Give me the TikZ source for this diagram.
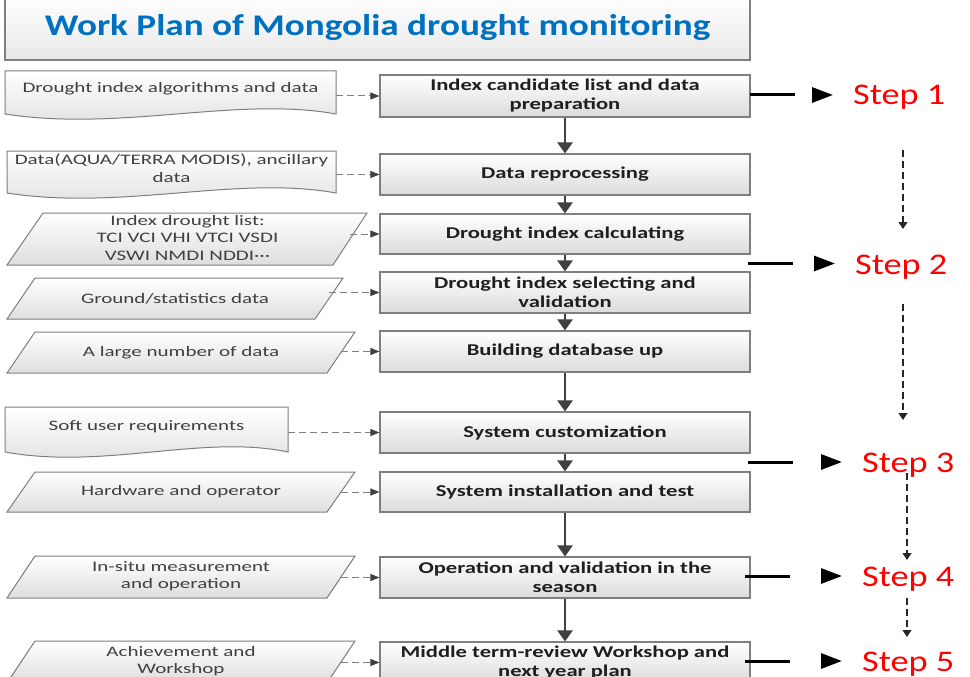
\documentclass[tikz,border=0pt]{standalone}
\usepackage{fontspec}
\setmainfont{Carlito}
\newfontfamily\titlefont[FakeStretch=1.24]{Carlito}
\newfontfamily\boxfont[FakeStretch=1.37]{Carlito}
\newfontfamily\infont[FakeStretch=1.45]{Carlito}
\newfontfamily\stepfont[FakeStretch=1.21]{Carlito}
\usetikzlibrary{arrows.meta}
\definecolor{titleblue}{HTML}{0070C0}
\definecolor{edgegray}{HTML}{7F7F7F}
\definecolor{flowgray}{HTML}{404040}
\definecolor{intextgray}{HTML}{404040}
\definecolor{stepred}{HTML}{FF0000}
\newcommand\docshape[4]{%
  \draw[inshape] (#1,#3) -- (#2,#3) -- (#2,#4)
    .. controls ({#2-0.3*(#2-#1)},{#4-18}) and ({#1+0.35*(#2-#1)},{#4+18}) .. (#1,#4) -- cycle;}
\newcommand\parashape[6]{% TLx TRx BLx BRx ytop ybot
  \draw[inshape] (#1,#5) -- (#2,#5) -- (#4,#6) -- (#3,#6) -- cycle;}
\begin{document}
\begin{tikzpicture}[x=1pt,y=-1pt,
  mainbox/.style={draw=edgegray, line width=1.1pt, top color=white, bottom color=black!14,
    minimum width=370pt, inner sep=0pt, align=center,
    font=\boxfont\bfseries\fontsize{16.5}{19}\selectfont, text=black!88},
  inshape/.style={draw=edgegray, line width=1pt, top color=white, bottom color=black!13},
  intext/.style={inner sep=0pt, align=center, font=\infont\fontsize{14.5}{17.5}\selectfont, text=intextgray},
  flow/.style={draw=flowgray, line width=2.4pt, -{Triangle[length=11pt,width=15pt]}, color=flowgray},
  feed/.style={draw=edgegray, line width=1pt, dash pattern=on 7pt off 4pt,
    -{Triangle[length=9pt,width=7pt,color=flowgray]}},
  steptext/.style={inner sep=0pt, text=stepred, font=\stepfont\fontsize{30}{34}\selectfont},
  steparrow/.style={draw=black, line width=3pt, dash pattern=on 45pt off 300pt,
    -{Triangle[length=21pt,width=15pt]}, shorten >=20pt},
  stepflow/.style={draw=black!85, line width=1.2pt, dash pattern=on 7pt off 4pt,
    -{Triangle[length=7pt,width=9pt]}},
  titlebox/.style={draw=edgegray, line width=1.1pt, top color=white, bottom color=black!9,
    inner sep=0pt, text=titleblue, font=\titlefont\bfseries\fontsize{30}{34}\selectfont}
]
\useasboundingbox (0,0) rectangle (970,677);
\clip (0,0) rectangle (970,677);
\fill[white] (0,0) rectangle (970,677);

% title
\node[titlebox, minimum width=745pt, minimum height=64pt] (title) at (377.5,28) {Work Plan of Mongolia drought monitoring};

% main boxes
\node[mainbox, minimum height=42pt] (m1) at (565,96) {Index candidate list and data\\preparation};
\node[mainbox, minimum height=41pt] (m2) at (565,174.5) {Data reprocessing};
\node[mainbox, minimum height=40pt] (m3) at (565,234) {Drought index calculating};
\node[mainbox, minimum height=41pt] (m4) at (565,292.5) {Drought index selecting and\\validation};
\node[mainbox, minimum height=41pt] (m5) at (565,351.5) {Building database up};
\node[mainbox, minimum height=41pt] (m6) at (565,432.5) {System customization};
\node[mainbox, minimum height=40pt] (m7) at (565,492) {System installation and test};
\node[mainbox, minimum height=41pt] (m8) at (565,577.5) {Operation and validation in the\\season};
\node[mainbox, minimum height=41pt] (m9) at (565,662.5) {Middle term-review Workshop and\\next year plan};

% main flow
\draw[flow] (m1) -- (m2);
\draw[flow] (m2) -- (m3);
\draw[flow] (m3) -- (m4);
\draw[flow] (m4) -- (m5);
\draw[flow] (m5) -- (m6);
\draw[flow] (m6) -- (m7);
\draw[flow] (m7) -- (m8);
\draw[flow] (m8) -- (m9);

% input shapes
\docshape{5}{336}{71}{114}
\docshape{7}{336}{151}{193}
\parashape{43}{367}{7}{333}{213}{265}
\parashape{35}{343}{7}{315}{278}{319}
\parashape{35}{355}{7}{327}{332}{373}
\docshape{5}{288}{407}{452}
\parashape{35}{355}{7}{327}{472}{512}
\parashape{35}{355}{7}{327}{556}{598}
\parashape{35}{355}{7}{327}{641}{683}

% input texts
\node[intext, minimum width=331pt] (i1) at (170.5,89) {Drought index algorithms and data};
\node[intext, minimum width=329pt] (i2) at (171.5,168.5) {Data(AQUA/TERRA MODIS), ancillary\\data};
\node[intext, minimum width=325pt] (i3) at (187.5,238) {Index drought list:\\TCI VCI VHI VTCI VSDI\\VSWI NMDI NDDI···};
\node[intext, minimum width=308pt] (i4) at (175,298.5) {Ground/statistics data};
\node[intext, minimum width=320pt] (i5) at (181,352.5) {A large number of data};
\node[intext, minimum width=283pt] (i6) at (146.5,427) {Soft user requirements};
\node[intext, minimum width=320pt] (i7) at (181,492) {Hardware and operator};
\node[intext, minimum width=320pt] (i8) at (181,576) {In-situ measurement\\and operation};
\node[intext, minimum width=320pt] (i9) at (181,661) {Achievement and\\Workshop};

% feeds
\draw[feed] (i1.east |- m1.west) -- (m1.west);
\draw[feed] (i2.east |- m2.west) -- (m2.west);
\draw[feed] (i3.east |- m3.west) -- (m3.west);
\draw[feed] (i4.east |- m4.west) -- (m4.west);
\draw[feed] (i5.east |- m5.west) -- (m5.west);
\draw[feed] (i6.east |- m6.west) -- (m6.west);
\draw[feed] (i7.east |- m7.west) -- (m7.west);
\draw[feed] (i8.east |- m8.west) -- (m8.west);
\draw[feed] (i9.east |- m9.west) -- (m9.west);

% steps
\node[steptext, anchor=base west] (s1) at (853,105) {Step 1};
\node[steptext, anchor=base west] (s2) at (855,274) {Step 2};
\node[steptext, anchor=base west] (s3) at (862,472) {Step 3};
\node[steptext, anchor=base west] (s4) at (862,586) {Step 4};
\node[steptext, anchor=base west] (s5) at (862,671) {Step 5};

\coordinate (k1) at (750,95);
\coordinate (k2) at (748,263.5);
\coordinate (k3) at (748,462);
\coordinate (k4) at (745,576);
\coordinate (k5) at (745,661);
\draw[steparrow] (k1) -- (s1.west |- k1);
\draw[steparrow] (k2) -- (s2.west |- k2);
\draw[steparrow] (k3) -- (s3.west |- k3);
\draw[steparrow] (k4) -- (s4.west |- k4);
\draw[steparrow] (k5) -- (s5.west |- k5);

\coordinate (v1a) at (903,150); \coordinate (v1b) at (903,229);
\coordinate (v2a) at (903,304); \coordinate (v2b) at (903,420);
\coordinate (v3a) at (907,473); \coordinate (v3b) at (907,560);
\coordinate (v4a) at (907,598); \coordinate (v4b) at (907,637);
\draw[stepflow] (v1a) -- (v1b);
\draw[stepflow] (v2a) -- (v2b);
\draw[stepflow] (v3a) -- (v3b);
\draw[stepflow] (v4a) -- (v4b);
\end{tikzpicture}
\end{document}
